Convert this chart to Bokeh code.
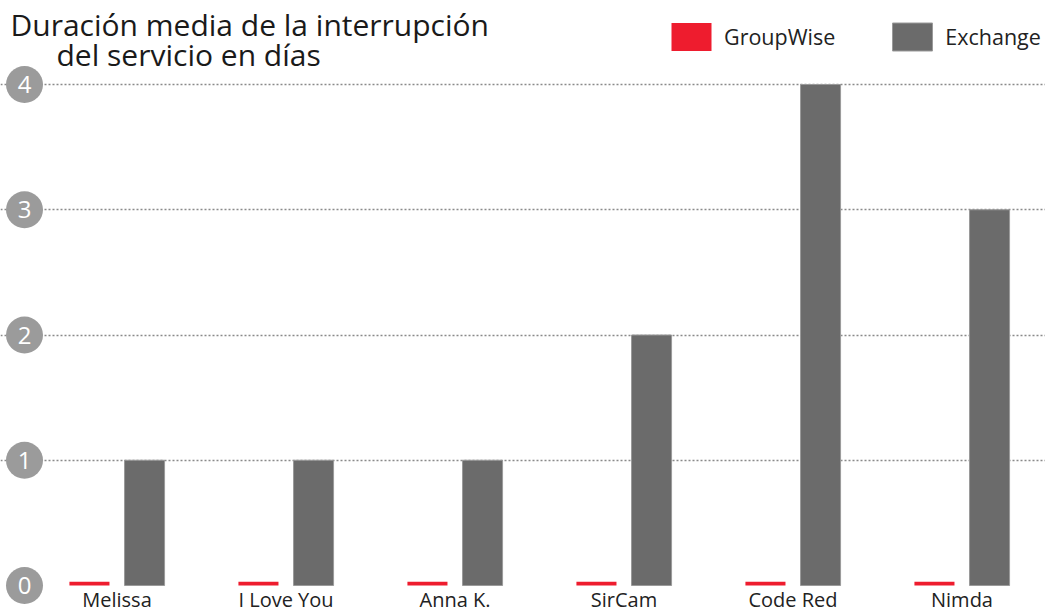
from bokeh.plotting import figure
from bokeh.models import (Range1d, FixedTicker, Grid, Legend, LegendItem, Label,
                          ColumnDataSource)
from bokeh.transform import dodge
from bokeh.core.properties import value
from bokeh.embed import file_html
from bokeh.resources import INLINE

# ---- data ----
categories = ["Melissa", "I Love You", "Anna K.", "SirCam", "Code Red", "Nimda"]
groupwise = [0.03, 0.03, 0.03, 0.03, 0.03, 0.03]
exchange = [1, 1, 1, 2, 4, 3]
yticks = [0, 1, 2, 3, 4]
grid_ticks = [1, 2, 3, 4]
title_line1 = "Duración media de la interrupción"
title_line2 = "del servicio en días"

FONT = "Open Sans"
W, H = 1045, 613
px_x = 169.0            # pixels per category
x_start = -116.5 / px_x
x_end = x_start + W / px_x
px_y = 125.25           # pixels per unit
y_start = -(H - 585) / px_y
y_end = y_start + H / px_y

p = figure(width=W, height=H, x_range=Range1d(x_start, x_end),
           y_range=Range1d(y_start, y_end), output_backend="svg",
           toolbar_location=None, min_border=0,
           x_axis_location=None, y_axis_location=None)
p.xgrid.visible = False
p.ygrid.visible = False
p.outline_line_color = None
p.background_fill_color = "white"

g = Grid(dimension=1, ticker=FixedTicker(ticks=grid_ticks),
         grid_line_color="#8a8a8a", grid_line_dash="2 2", grid_line_width=1.5)
p.add_layout(g)

src = ColumnDataSource(dict(x=list(range(len(categories))), cat=categories,
                            gw=groupwise, ex=exchange))

r1 = p.vbar(x=dodge("x", -0.163, range=p.x_range), top="gw", width=0.237,
            source=src, fill_color="#ee1c2e", line_color=None)
r2 = p.vbar(x=dodge("x", 0.163, range=p.x_range), top="ex", width=0.237,
            source=src, fill_color="#6b6b6b", line_color="#9a9a9a", line_width=1)

p.text(x="x", y=0, text="cat", source=src, text_align="center",
       text_baseline="top", text_font=value(FONT), text_font_size="20px",
       text_color="#222222")

circle_x = x_start + 24 / px_x
tsrc = ColumnDataSource(dict(y=yticks, t=[str(v) for v in yticks],
                             x=[circle_x] * len(yticks)))
p.scatter(x="x", y="y", size=37, source=tsrc, fill_color="#9b9b9b", line_color=None)
p.text(x="x", y="y", text="t", source=tsrc, text_align="center",
       text_baseline="middle", text_font=value(FONT), text_font_size="24px",
       text_color="white")

legend = Legend(items=[LegendItem(label="GroupWise", renderers=[r1]),
                       LegendItem(label="Exchange", renderers=[r2])],
                orientation="horizontal", location=(666, 559),
                glyph_width=50, glyph_height=35, label_standoff=8, spacing=52,
                padding=0, margin=0, border_line_color=None,
                background_fill_alpha=0, label_text_font=FONT,
                label_text_font_size="21.5px", label_text_color="#222222",
                label_text_baseline="middle")
p.add_layout(legend)

p.add_layout(Label(x=10, y=H - 3, x_units="screen", y_units="screen",
                   text=title_line1, text_baseline="top", text_font=FONT,
                   text_font_size="30px", text_color="#1a1a1a"))
p.add_layout(Label(x=56, y=H - 33, x_units="screen", y_units="screen",
                   text=title_line2, text_baseline="top", text_font=FONT,
                   text_font_size="30px", text_color="#1a1a1a"))

open("out.html", "w").write(file_html(p, INLINE))
